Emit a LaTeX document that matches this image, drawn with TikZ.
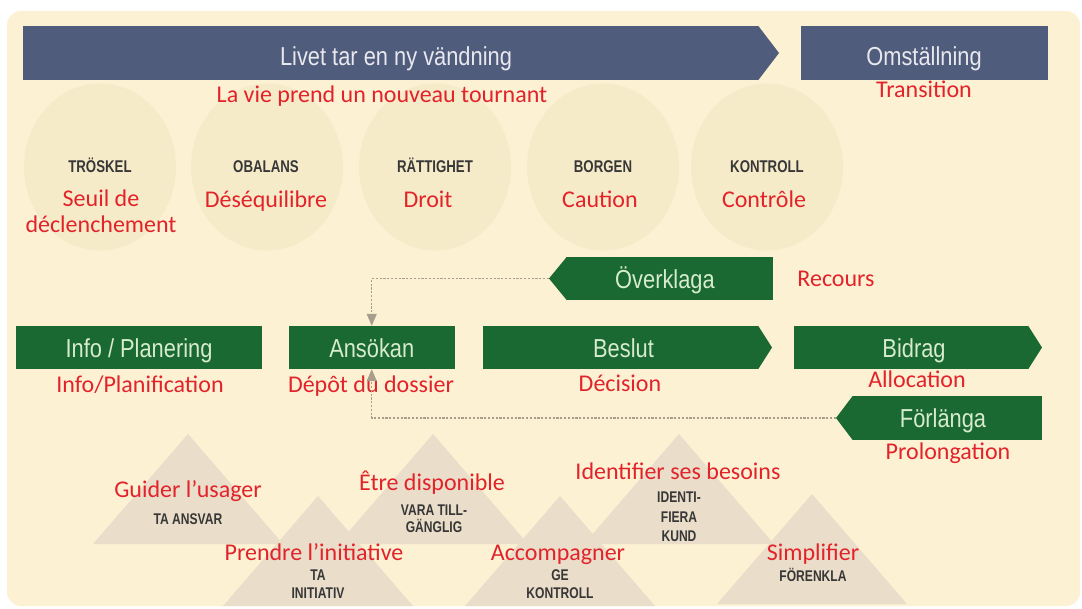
\documentclass[tikz,border=0pt]{standalone}
\usepackage{fontspec}
\setmainfont{Carlito}
\newfontfamily\swfont{Liberation Sans}[FakeStretch=0.84]
\newfontfamily\swbfont{Liberation Sans}[FakeStretch=0.78]
\usetikzlibrary{arrows.meta,shapes.geometric}
\definecolor{bgc}{RGB}{253,241,212}
\definecolor{circc}{RGB}{246,235,201}
\definecolor{tric}{RGB}{234,221,202}
\definecolor{lifeblue}{RGB}{80,92,124}
\definecolor{dgreen}{RGB}{26,104,50}
\definecolor{frred}{RGB}{226,35,42}
\definecolor{svgrey}{RGB}{55,55,55}
\definecolor{wtext}{RGB}{232,232,238}
\definecolor{gtext}{RGB}{214,236,205}
\definecolor{connc}{RGB}{168,158,140}
\tikzset{
  fr/.style={text=frred, font=\fontsize{24}{26}\selectfont, inner sep=0, anchor=base},
  svc/.style={text=svgrey, font=\swbfont\bfseries\fontsize{17}{18}\selectfont, inner sep=0, anchor=base},
  svt/.style={text=svgrey, font=\swbfont\bfseries\fontsize{15.5}{17}\selectfont, inner sep=0, anchor=base},
  bigtxt/.style={font=\swfont\fontsize{26}{28}\selectfont, inner sep=0, anchor=base},
  wtxt/.style={bigtxt, text=wtext},
  gtxt/.style={bigtxt, text=gtext},
  gbox/.style={fill=dgreen, draw=none, inner sep=0, minimum height=43, anchor=center},
  bbox/.style={fill=lifeblue, draw=none, inner sep=0, minimum height=54, anchor=center},
  circ/.style={ellipse, fill=circc, draw=none, minimum width=152, minimum height=167, inner sep=0},
  tri/.style={fill=tric, draw=none},
  conn/.style={draw=connc, line width=1.1pt, dash pattern=on 2.2pt off 1.6pt, -{Triangle[length=12pt,width=10pt]}},
}
\begin{document}
\begin{tikzpicture}[x=1pt,y=-1pt]
\useasboundingbox (0,0) rectangle (1082,608);
% background
\fill[white] (0,0) rectangle (1082,608);
\fill[bgc, rounded corners=14] (7,11) -- (1080,11) -- (1080,606) -- (7,606) -- cycle;

% circles
\node[circ] (c1) at (100,167) {};
\node[circ] (c2) at (267,167) {};
\node[circ] (c3) at (435,167) {};
\node[circ] (c4) at (603,167) {};
\node[circ] (c5) at (767,167) {};

% triangles
\fill[tri] (188,434) -- (283,544) -- (93,544) -- cycle;
\fill[tri] (433,434) -- (528,544) -- (338,544) -- cycle;
\fill[tri] (679,434) -- (774,544) -- (584,544) -- cycle;
\fill[tri] (318,496) -- (413,606) -- (223,606) -- cycle;
\fill[tri] (560,496) -- (655,606) -- (465,606) -- cycle;
\fill[tri] (812,494) -- (907,604) -- (717,604) -- cycle;

% top bar
\node[bbox, minimum width=735] (livetbox) at (390.5,53) {};
\fill[lifeblue] (livetbox.north east) -- (779,53) -- (livetbox.south east) -- cycle;
\node[wtxt] (livet) at (396,65) {Livet tar en ny vändning};
\node[bbox, minimum width=247] (omst) at (924.5,53) {};
\node[wtxt] (omsttxt) at (924,65) {Omställning};
\node[fr] (lavie) at (382,102) {La vie prend un nouveau tournant};
\node[fr] (trans) at (924,97) {Transition};

% circle labels
\node[svc] (l1) at (100,172) {TRÖSKEL};
\node[svc] (l2) at (266,172) {OBALANS};
\node[svc] (l3) at (435,172) {RÄTTIGHET};
\node[svc] (l4) at (603,172) {BORGEN};
\node[svc] (l5) at (767,172) {KONTROLL};
\node[fr] (f1a) at (101,206) {Seuil de};
\node[fr] (f1b) at (101,232) {déclenchement};
\node[fr] (f2) at (266,207) {Déséquilibre};
\node[fr] (f3) at (428,207) {Droit};
\node[fr] (f4) at (600,207) {Caution};
\node[fr] (f5) at (764,207) {Contrôle};

% Överklaga
\node[gbox, minimum width=206] (ov) at (670,278.5) {};
\coordinate (ovtip) at (549,278.5);
\fill[dgreen] (ov.north west) -- (ovtip) -- (ov.south west) -- cycle;
\node[gtxt] (ovtxt) at (665,288) {Överklaga};
\node[fr] (recours) at (836,286) {Recours};

% main row
\node[gbox, minimum width=246.5] (info) at (139,347.5) {};
\node[gtxt] (infotxt) at (139,357) {Info / Planering};
\node[gbox, minimum width=165.5] (ans) at (371.75,347.5) {};
\node[gtxt] (anstxt) at (371.75,357) {Ansökan};
\node[gbox, minimum width=275] (beslut) at (620.5,347.5) {};
\fill[dgreen] (beslut.north east) -- (772,347.5) -- (beslut.south east) -- cycle;
\node[gtxt] (beslutxt) at (623.5,357) {Beslut};
\node[gbox, minimum width=234] (bidrag) at (911,347.5) {};
\fill[dgreen] (bidrag.north east) -- (1042,347.5) -- (bidrag.south east) -- cycle;
\node[gtxt] (bidragtxt) at (914,357) {Bidrag};

\node[fr] (infofr) at (140,392) {Info/Planification};
\node[fr] (ansfr) at (371,392) {Dépôt du dossier};
\node[fr] (beslutfr) at (620,391) {Décision};
\node[fr] (bidragfr) at (917,387) {Allocation};

% Förlänga
\node[gbox, minimum width=189, minimum height=44] (forl) at (947.5,418) {};
\coordinate (forltip) at (836,418);
\fill[dgreen] (forl.north west) -- (forltip) -- (forl.south west) -- cycle;
\node[gtxt] (forltxt) at (943,427) {Förlänga};
\node[fr] (prolong) at (948,459) {Prolongation};

% connectors
\draw[conn] (ovtip) -- (ovtip -| ans.north) -- (ans.north);
\draw[conn] (forltip) -- (forltip -| ans.south) -- (ans.south);

% triangle labels
\node[fr] (g1) at (188,497) {Guider l’usager};
\node[svt] (s1) at (188,524) {TA ANSVAR};
\node[fr] (g3) at (432,490) {Être disponible};
\node[svt] (s3a) at (434,515) {VARA TILL-};
\node[svt] (s3b) at (434,532) {GÄNGLIG};
\node[fr] (g2) at (314,560) {Prendre l’initiative};
\node[svt] (s2a) at (318,580) {TA};
\node[svt] (s2b) at (318,598) {INITIATIV};
\node[fr] (g4) at (558,560) {Accompagner};
\node[svt] (s4a) at (560,580) {GE};
\node[svt] (s4b) at (560,598) {KONTROLL};
\node[fr] (g5) at (678,479) {Identifier ses besoins};
\node[svt] (s5a) at (679,502) {IDENTI-};
\node[svt] (s5b) at (679,522) {FIERA};
\node[svt] (s5c) at (679,541) {KUND};
\node[fr] (g6) at (813,560) {Simplifier};
\node[svt] (s6) at (813,581) {FÖRENKLA};
\end{tikzpicture}
\end{document}
